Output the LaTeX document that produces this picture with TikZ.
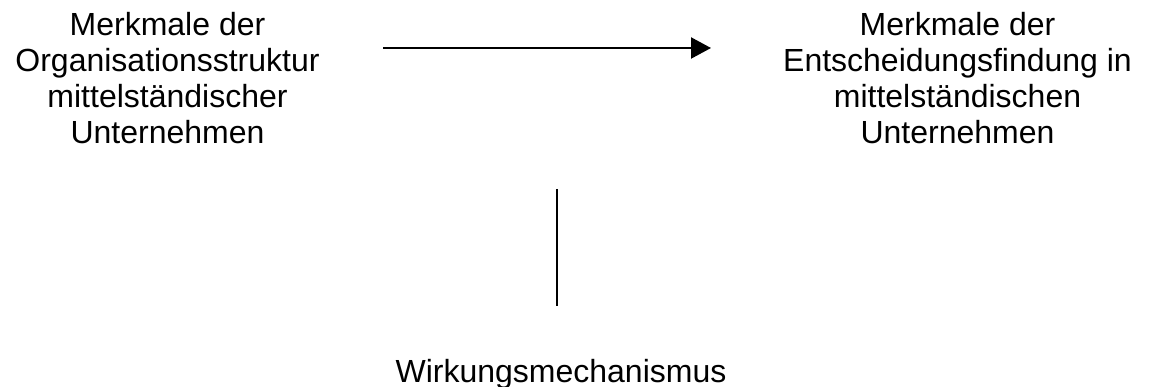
\documentclass[tikz,border=0pt]{standalone}
\usepackage{fontspec}
\setmainfont{Liberation Sans}
\usetikzlibrary{arrows.meta}
\begin{document}
\begin{tikzpicture}[x=1pt,y=-1pt,
  lbl/.style={align=center,font=\fontsize{32}{36}\selectfont,inner sep=0pt},
  conn/.style={line width=2.2pt}]
\useasboundingbox (0,0) rectangle (1153,387);
\node[lbl] (org) at (167.5,78.5) {Merkmale der\\Organisationsstruktur\\mittelständischer\\Unternehmen};
\node[lbl] (ent) at (957.5,78.5) {Merkmale der\\Entscheidungsfindung in\\mittelständischen\\Unternehmen};
\node[lbl,anchor=base] (wirk) at (561,382) {Wirkungsmechanismus};
\coordinate (a1) at (383,48);
\coordinate (a2) at (711,48);
\coordinate (v1) at (557,189);
\coordinate (v2) at (557,306);
\draw[conn,-{Triangle[length=20pt,width=21pt]}] (a1) -- (a2);
\draw[conn] (v1) -- (v2);
\end{tikzpicture}
\end{document}
